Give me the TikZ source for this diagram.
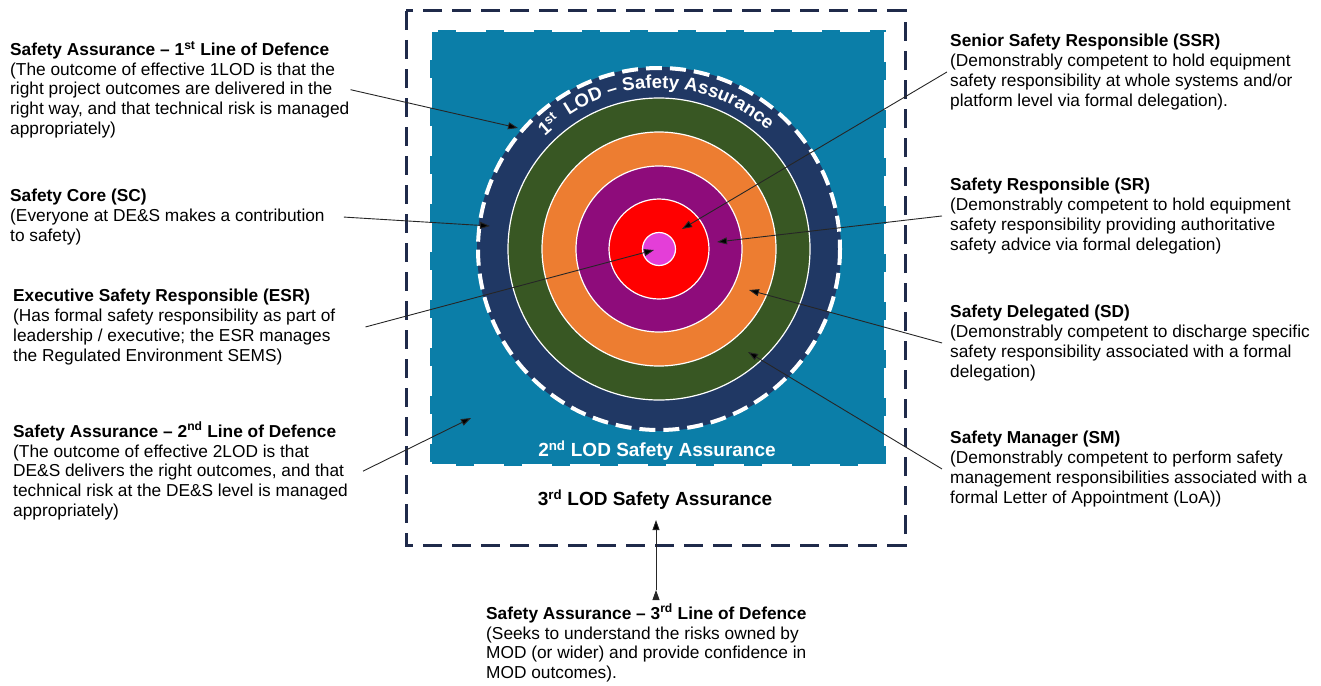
\documentclass[tikz,border=0pt]{standalone}
\usepackage{fontspec}
\setmainfont{Liberation Sans}
\usepackage{tikz}
\usetikzlibrary{arrows.meta,decorations.text}
\definecolor{boxnavy}{HTML}{1F2A4A}
\definecolor{lodteal}{HTML}{0B7EA8}
\definecolor{lodnavy}{HTML}{203864}
\definecolor{lodgreen}{HTML}{385723}
\definecolor{lodorange}{HTML}{ED7D31}
\definecolor{lodpurple}{HTML}{8E0C7B}
\definecolor{lodred}{HTML}{FF0000}
\definecolor{lodpink}{HTML}{E43ED8}
\newcommand{\bodyfont}{\fontsize{17.3}{19.8}\selectfont}
\newcommand{\ringfont}{\bfseries\fontsize{18.5}{20}\selectfont}
\newcommand{\lblfont}{\bfseries\fontsize{19}{21}\selectfont}

\tikzset{
	infotext/.style={anchor=north west, align=left, inner sep=0pt, font=\bodyfont},
	ringlabel/.style={inner sep=0pt, font=\lblfont},
	pointer/.style={-{Triangle[length=10pt,width=7pt]}, draw=black!85, line width=0.9pt},
	ring/.style={draw=white, line width=1.2pt}
}

\begin{document}
\begin{tikzpicture}[x=1pt,y=-1pt]
	\useasboundingbox (0,0) rectangle (1321,685);
	% 3rd and 2nd line of defence
	\draw[boxnavy, line width=3pt, dash pattern=on 19pt off 10pt] (406,11) rectangle (905,545);
	\fill[lodteal] (430,30) rectangle (886,466);
	\draw[white, line width=4pt, dash pattern=on 30pt off 18pt] (430,30) rectangle (886,466);
	
	% target
	\begin{scope}[shift={(659,249)}]
		\fill[lodnavy] (0,0) circle[radius=182];
		\filldraw[ring, fill=lodgreen] (0,0) circle[radius=151];
		\filldraw[ring, fill=lodorange] (0,0) circle[radius=117];
		\filldraw[ring, fill=lodpurple] (0,0) circle[radius=83];
		\filldraw[ring, fill=lodred] (0,0) circle[radius=50];
		\filldraw[ring, fill=lodpink] (0,0) circle[radius=16.5];
		\draw[white, line width=4pt, dash pattern=on 16pt off 8pt] (0,0) circle[radius=181];
		\node[ringlabel, white, font=\ringfont, rotate=41] (first) at (-131.5:167) {1\textsuperscript{st}};
		\path[decorate, decoration={text along path, text color=white,
			text={|\ringfont|LOD – Safety Assurance}}] (-124:161) arc[start angle=-124, end angle=-30, radius=161];
	\end{scope}
	
	\node[ringlabel, white] (lbl2) at (657,451) {2\textsuperscript{nd} LOD Safety Assurance};
	\node[ringlabel] (lbl3) at (655,500) {3\textsuperscript{rd} LOD Safety Assurance};
	
	% texts
	\node[infotext] (lod1) at (10,41) {\textbf{Safety Assurance – 1\textsuperscript{st} Line of Defence}\\(The outcome of effective 1LOD is that the\\right project outcomes are delivered in the\\right way, and that technical risk is managed\\appropriately)};
	\node[infotext] (sc) at (10,189) {\textbf{Safety Core (SC)}\\(Everyone at DE\&S makes a contribution\\to safety)};
	\node[infotext] (esr) at (13,289) {\textbf{Executive Safety Responsible (ESR)}\\(Has formal safety responsibility as part of\\leadership / executive; the ESR manages\\the Regulated Environment SEMS)};
	\node[infotext] (lod2) at (13,422) {\textbf{Safety Assurance – 2\textsuperscript{nd} Line of Defence}\\(The outcome of effective 2LOD is that\\DE\&S delivers the right outcomes, and that\\technical risk at the DE\&S level is managed\\appropriately)};
	\node[infotext] (ssr) at (950,34) {\textbf{Senior Safety Responsible (SSR)}\\(Demonstrably competent to hold equipment\\safety responsibility at whole systems and/or\\platform level via formal delegation).};
	\node[infotext] (sr) at (950,178) {\textbf{Safety Responsible (SR)}\\(Demonstrably competent to hold equipment\\safety responsibility providing authoritative\\safety advice via formal delegation)};
	\node[infotext] (sd) at (950,305) {\textbf{Safety Delegated (SD)}\\(Demonstrably competent to discharge specific\\safety responsibility associated with a formal\\delegation)};
	\node[infotext] (sm) at (950,431) {\textbf{Safety Manager (SM)}\\(Demonstrably competent to perform safety\\management responsibilities associated with a\\formal Letter of Appointment (LoA))};
	\node[infotext] (lod3) at (486,604) {\textbf{Safety Assurance – 3\textsuperscript{rd} Line of Defence}\\(Seeks to understand the risks owned by\\MOD (or wider) and provide confidence in\\MOD outcomes).};
	
	% arrow heads
	\coordinate (h-lod1) at (518,128);
	\coordinate (h-sc) at (490,226);
	\coordinate (h-esr) at (654,250);
	\coordinate (h-lod2) at (471,418);
	\coordinate (h-ssr) at (682,229);
	\coordinate (h-sr) at (717,242);
	\coordinate (h-sd) at (749,290);
	\coordinate (h-sm) at (748,352);
	\coordinate (h-lod3) at (656,520);
	\coordinate (t-lod3) at (656,590);
	
	\path[pointer]
	([xshift=1pt]lod1.east) edge (h-lod1)
	([xshift=19pt]sc.east) edge (h-sc)
	([xshift=30pt]esr.east) edge (h-esr)
	([xshift=15pt]lod2.east) edge (h-lod2)
	([xshift=-3pt]ssr.west) edge (h-ssr)
	([xshift=-8pt]sr.west) edge (h-sr)
	([xshift=-8pt]sd.west) edge (h-sd)
	([xshift=-8pt]sm.west) edge (h-sm)
	(t-lod3) edge (h-lod3);
\end{tikzpicture}
\end{document}
